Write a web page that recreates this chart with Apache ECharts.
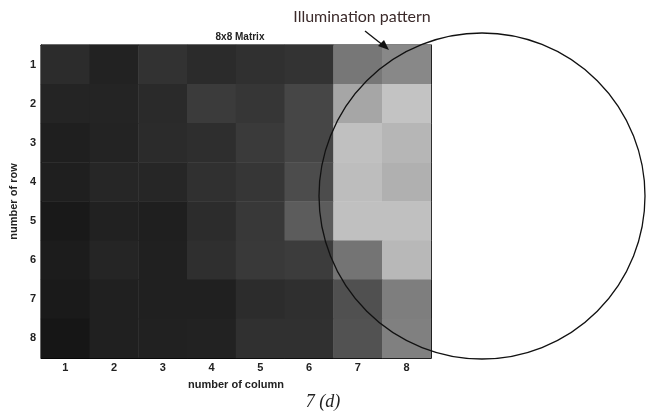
<!DOCTYPE html>
<html>
<head>
<meta charset="utf-8">
<script src="https://cdn.jsdelivr.net/npm/echarts@6/dist/echarts.min.js"></script>
<style>
html,body{margin:0;padding:0;background:#fff;}
#chart{width:650px;height:414px;}
</style>
</head>
<body>
<div id="chart"></div>
<script>
// Column and row labels
var columns = ['1','2','3','4','5','6','7','8'];
var rows = ['1','2','3','4','5','6','7','8'];
// Grey intensity (0-255) per cell, one array per row (row 1 at top)
var row1 = [44, 34, 50, 43, 48, 51, 119, 136];
var row2 = [36, 36, 42, 59, 54, 70, 166, 195];
var row3 = [31, 35, 43, 46, 58, 70, 192, 182];
var row4 = [31, 38, 38, 48, 54, 76, 189, 176];
var row5 = [25, 33, 31, 44, 56, 92, 192, 192];
var row6 = [28, 37, 32, 47, 57, 60, 116, 184];
var row7 = [26, 32, 32, 32, 44, 47, 80, 126];
var row8 = [22, 32, 33, 34, 48, 48, 82, 128];
var matrix = [row1, row2, row3, row4, row5, row6, row7, row8];

var data = [];
matrix.forEach(function (r, ri) {
  r.forEach(function (v, ci) { data.push([ci, ri, v]); });
});

var chart = echarts.init(document.getElementById('chart'));
var axisFont = {fontFamily: 'Liberation Sans', fontWeight: 'bold', fontSize: 11, color: '#222'};
chart.setOption({
  animation: false,
  backgroundColor: '#fff',
  title: {
    text: '8x8 Matrix', left: 235, top: 27, textAlign: 'center',
    textStyle: {fontFamily: 'Liberation Sans', fontWeight: 'bold', fontSize: 10, color: '#222'}
  },
  grid: {left: 39, top: 45, width: 392, height: 313, show: true, borderColor: '#000', borderWidth: 1, containLabel: false},
  xAxis: [{
    type: 'category', data: columns, position: 'bottom',
    name: 'number of column', nameLocation: 'middle', nameGap: 21,
    nameTextStyle: {fontFamily: 'Liberation Sans', fontWeight: 'bold', fontSize: 11, color: '#222'},
    axisLine: {show: true, lineStyle: {color: '#000'}},
    axisTick: {show: true, inside: true, alignWithLabel: true, length: 3, lineStyle: {color: '#000'}},
    axisLabel: Object.assign({margin: 4}, axisFont),
    splitLine: {show: false}
  }, {
    type: 'category', data: columns, position: 'top',
    axisLine: {show: true, lineStyle: {color: '#000'}},
    axisTick: {show: true, inside: true, alignWithLabel: true, length: 3, lineStyle: {color: '#000'}},
    axisLabel: {show: false}
  }],
  yAxis: [{
    type: 'category', data: rows, inverse: true, position: 'left',
    name: 'number of row', nameLocation: 'middle', nameGap: 18, nameRotate: 90,
    nameTextStyle: {fontFamily: 'Liberation Sans', fontWeight: 'bold', fontSize: 11, color: '#222'},
    axisLine: {show: true, lineStyle: {color: '#000'}},
    axisTick: {show: true, inside: true, alignWithLabel: true, length: 3, lineStyle: {color: '#000'}},
    axisLabel: Object.assign({margin: 5}, axisFont)
  }, {
    type: 'category', data: rows, inverse: true, position: 'right',
    axisLine: {show: true, lineStyle: {color: '#000'}},
    axisTick: {show: true, inside: true, alignWithLabel: true, length: 3, lineStyle: {color: '#555'}},
    axisLabel: {show: false}
  }],
  visualMap: {
    show: false, type: 'continuous', min: 0, max: 255, dimension: 2,
    inRange: {color: ['#000000', '#ffffff']}
  },
  series: [{
    type: 'heatmap', data: data, xAxisIndex: 0, yAxisIndex: 0,
    itemStyle: {borderWidth: 0},
    emphasis: {disabled: true}
  }],
  graphic: [
    {type: 'circle', shape: {cx: 482, cy: 196, r: 163}, z: 100,
     style: {fill: 'none', stroke: '#111', lineWidth: 1.3}},
    {type: 'line', shape: {x1: 365, y1: 31, x2: 384, y2: 46}, z: 100,
     style: {stroke: '#111', lineWidth: 1.3}},
    {type: 'polygon', shape: {points: [[389, 50], [378, 46], [384, 40]]}, z: 100,
     style: {fill: '#111'}},
    {type: 'text', x: 362, y: 17, z: 100,
     style: {text: 'Illumination pattern', fontFamily: 'Lato', fontSize: 16, fill: '#3b2a2a', align: 'center', verticalAlign: 'middle'}},
    {type: 'text', x: 323, y: 402, z: 100,
     style: {text: '7 (d)', fontFamily: 'Liberation Serif', fontStyle: 'italic', fontSize: 18, fill: '#222', align: 'center', verticalAlign: 'middle'}}
  ]
});
</script>
</body>
</html>
